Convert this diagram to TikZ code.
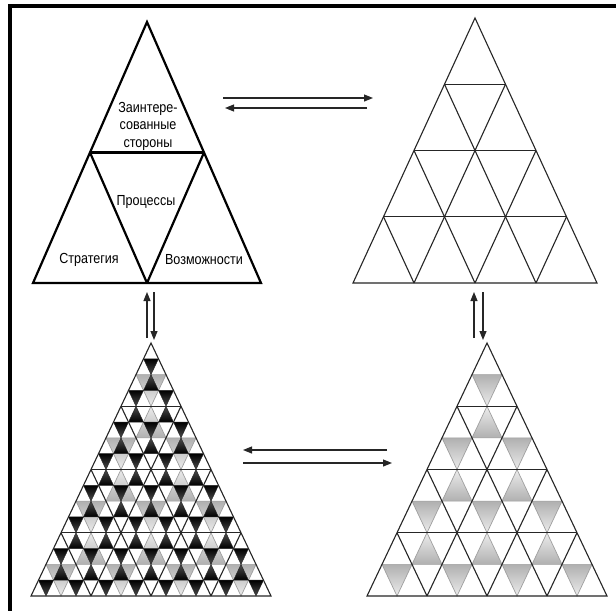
\documentclass[tikz,border=0pt]{standalone}
\usepackage{fontspec}
\newfontfamily\lblfont[FakeStretch=0.86]{Liberation Sans}
\usetikzlibrary{arrows.meta}

% grid parameters: apex x, apex y, half base width, height, rows
\newcommand\setgrid[5]{\def\AX{#1}\def\AY{#2}\def\HW{#3}\def\HT{#4}%
  \pgfmathsetmacro\CW{2*#3/#5}\pgfmathsetmacro\CH{#4/#5}}
% geometry of cell row #1, index #2
\newcommand\cellgeo[2]{%
  \pgfmathsetmacro\cYt{\AY+(#1-1)*\CH}%
  \pgfmathsetmacro\cYb{\AY+#1*\CH}%
  \pgfmathsetmacro\cXu{\AX-#1*\CW/2+#2*\CW}%
  \pgfmathsetmacro\cXd{\AX-(#1-1)*\CW/2+#2*\CW}}
% upward cell
\newcommand\upcell[3]{\cellgeo{#1}{#2}%
  \path[#3] (\cXu,\cYb) -- (\cXu+\CW,\cYb) -- (\cXu+\CW/2,\cYt) -- cycle;}
% downward cell
\newcommand\dncell[3]{\cellgeo{#1}{#2}%
  \path[#3] (\cXd,\cYt) -- (\cXd+\CW,\cYt) -- (\cXd+\CW/2,\cYb) -- cycle;}
% middle quarter of an upward cell (points down)
\newcommand\upcenter[3]{\cellgeo{#1}{#2}%
  \path[#3] (\cXu+\CW/4,\cYt+\CH/2) -- (\cXu+3*\CW/4,\cYt+\CH/2) -- (\cXu+\CW/2,\cYb) -- cycle;}
% middle quarter of a downward cell (points up)
\newcommand\dncenter[3]{\cellgeo{#1}{#2}%
  \path[#3] (\cXd+\CW/4,\cYt+\CH/2) -- (\cXd+3*\CW/4,\cYt+\CH/2) -- (\cXd+\CW/2,\cYt) -- cycle;}
% outline plus a triangular grid of #1 rows (#2 = #1-1)
\newcommand\trigrid[3]{%
  \foreach \i in {1,...,#2}{%
    \draw[#3] (\AX-\i*\HW/#1,\AY+\i*\HT/#1) -- (\AX+\i*\HW/#1,\AY+\i*\HT/#1);
    \draw[#3] (\AX+\i*\HW/#1,\AY+\i*\HT/#1) -- (\AX-\HW+2*\i*\HW/#1,\AY+\HT);
    \draw[#3] (\AX-\i*\HW/#1,\AY+\i*\HT/#1) -- (\AX+\HW-2*\i*\HW/#1,\AY+\HT);}
  \draw[#3, line join=miter] (\AX,\AY) -- (\AX-\HW,\AY+\HT) -- (\AX+\HW,\AY+\HT) -- cycle;}
% shaded middle cells of every 2-row block in an 8-row grid
\newcommand\graycells{%
  \foreach \k in {1,...,4}{%
    \pgfmathtruncatemacro\rr{2*\k}\pgfmathtruncatemacro\km{\k-1}%
    \foreach \m in {0,...,\km}{\pgfmathtruncatemacro\jj{2*\m}\dncell{\rr}{\jj}{graydn}}}
  \foreach \k in {2,...,4}{%
    \pgfmathtruncatemacro\rr{2*\k-1}\pgfmathtruncatemacro\km{\k-2}%
    \foreach \m in {0,...,\km}{\pgfmathtruncatemacro\jj{2*\m+1}\upcell{\rr}{\jj}{grayup}}}}

\tikzset{
  frame/.style={line width=4pt},
  heavy/.style={line width=2.2pt, black},
  grid/.style={line width=1.1pt, black!85},
  link/.style={line width=1.1pt, black!85, -{Triangle[length=9pt,width=7pt]}},
  graydn/.style={top color=gray!62, bottom color=gray!15, draw=gray!75, line width=0.7pt},
  grayup/.style={top color=gray!15, bottom color=gray!62, draw=gray!75, line width=0.7pt},
  blackdn/.style={top color=black, bottom color=black!70, draw=black!85, line width=0.4pt},
  blackup/.style={top color=black!70, bottom color=black, draw=black!85, line width=0.4pt},
  lbl/.style={font=\lblfont\fontsize{14.6}{17.5}\selectfont, align=center, inner sep=0pt},
}

\begin{document}
\begin{tikzpicture}[x=1pt, y=-1pt]
\useasboundingbox (0,0) rectangle (616,611);
\fill[white] (0,0) rectangle (616,611);

% frame
\draw[frame] (616,6) -- (10.3,6) -- (10.3,611);

% top left: two-row pyramid with labels
\setgrid{147}{22}{114}{261}{2}
\trigrid{2}{1}{heavy}
\node[lbl] (stake) at (148,126) {Заинтере-\\сованные\\стороны};
\node[lbl] (proc) at (146,202) {Процессы};
\node[lbl] (strat) at (89,260) {Стратегия};
\node[lbl] (cap) at (204,260) {Возможности};

% top right: four-row pyramid
\setgrid{475}{18}{122}{265}{4}
\trigrid{4}{3}{grid}

% bottom right: eight-row pyramid with shaded middle cells
\setgrid{487}{343}{120}{253}{8}
\graycells
\trigrid{4}{3}{grid}

% bottom left: sixteen-row pyramid
\setgrid{151}{343}{120}{253}{8}
\graycells
\foreach \r in {1,...,8}{%
  \pgfmathtruncatemacro\rlast{\r-1}%
  \foreach \j in {0,...,\rlast}{\upcenter{\r}{\j}{blackdn}}}
\foreach \r in {2,...,8}{%
  \pgfmathtruncatemacro\rlast{\r-2}%
  \foreach \j in {0,...,\rlast}{\dncenter{\r}{\j}{blackup}}}
\trigrid{4}{3}{grid}

% arrows
\coordinate (ta1) at (223,98);  \coordinate (tb1) at (373,98);
\coordinate (ta2) at (367,108); \coordinate (tb2) at (225,108);
\draw[link] (ta1) -- (tb1);
\draw[link] (ta2) -- (tb2);

\coordinate (ba1) at (387,450); \coordinate (bb1) at (243,450);
\coordinate (ba2) at (243,463); \coordinate (bb2) at (392,463);
\draw[link] (ba1) -- (bb1);
\draw[link] (ba2) -- (bb2);

\coordinate (la1) at (147,338); \coordinate (lb1) at (147,292);
\coordinate (la2) at (154,292); \coordinate (lb2) at (154,340);
\draw[link] (la1) -- (lb1);
\draw[link] (la2) -- (lb2);

\coordinate (ra1) at (474,338); \coordinate (rb1) at (474,292);
\coordinate (ra2) at (483,292); \coordinate (rb2) at (483,340);
\draw[link] (ra1) -- (rb1);
\draw[link] (ra2) -- (rb2);
\end{tikzpicture}
\end{document}
